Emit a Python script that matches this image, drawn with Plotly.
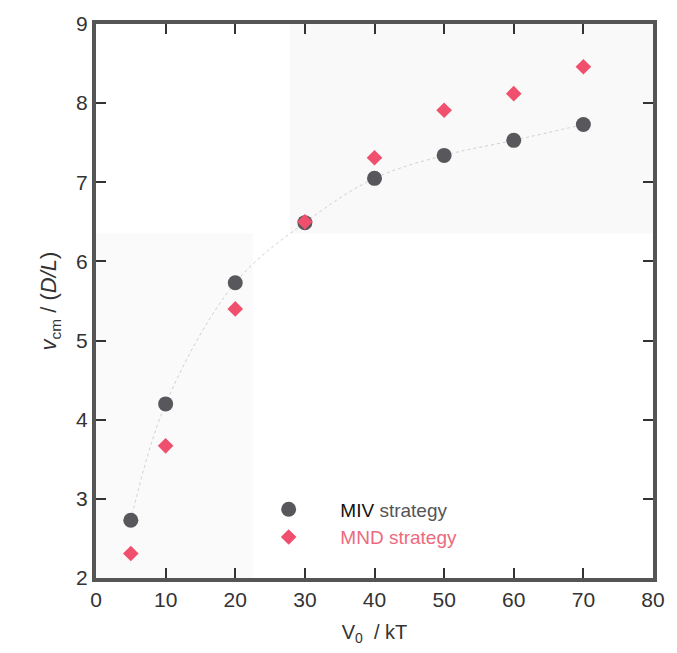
import plotly.graph_objects as go

v0 = [5, 10, 20, 30, 40, 50, 60, 70]
miv = [2.73, 4.20, 5.73, 6.49, 7.05, 7.34, 7.53, 7.73]
mnd = [2.31, 3.67, 5.40, 6.50, 7.31, 7.91, 8.12, 8.46]
xticks = [0, 10, 20, 30, 40, 50, 60, 70, 80]
yticks = [2, 3, 4, 5, 6, 7, 8, 9]

tickfont = dict(family="Liberation Sans, Arial", size=21, color="#333")

fig = go.Figure()
fig.add_trace(go.Scatter(x=v0, y=miv, mode="lines", line=dict(color="#d0d0d0", width=1, dash="dot", shape="spline"),
                         showlegend=False, hoverinfo="skip"))
fig.add_trace(go.Scatter(x=v0, y=miv, mode="markers", name='      <span style="color:#111">MIV</span> strategy',
                         marker=dict(symbol="circle", size=15, color="#58585c", line=dict(width=0))))
fig.add_trace(go.Scatter(x=v0, y=mnd, mode="markers", name='      <span style="color:#ec6a7e">MND strategy</span>',
                         marker=dict(symbol="diamond", size=12, color="#f0506e", line=dict(width=0))))

# faint scan-background patches
fig.add_shape(type="rect", xref="paper", yref="paper", x0=(293-96)/565, x1=1.0, y0=(580-230)/563, y1=1.0,
              fillcolor="#f9f9f9", line=dict(width=0), layer="below")
fig.add_shape(type="rect", xref="paper", yref="paper", x0=0, x1=(255-96)/565, y0=0, y1=(580-230)/563,
              fillcolor="#fafafa", line=dict(width=0), layer="below")

axis_common = dict(showgrid=False, zeroline=False, showline=True, linecolor="#555", linewidth=4, mirror="ticks",
                   ticks="inside", ticklen=10, tickwidth=2, tickcolor="#333", tickfont=tickfont)
fig.update_xaxes(range=[0, 80], tickvals=xticks, ticktext=[str(t) for t in xticks],
                 title=dict(text="V<sub>0</sub>  / kT", font=dict(family="Liberation Sans, Arial", size=20, color="#333"), standoff=16),
                 **axis_common)
fig.update_yaxes(range=[2, 9], tickvals=yticks, ticktext=[str(t) for t in yticks],
                 title=dict(text="<i>v</i><sub>cm</sub> / (<i>D/L</i>)", font=dict(family="Liberation Sans, Arial", size=22, color="#333"), standoff=14),
                 **axis_common)
fig.update_layout(width=677, height=653, margin=dict(l=96, r=16, t=17, b=73),
                  plot_bgcolor="white", paper_bgcolor="white",
                  legend=dict(x=0.31, y=0.158, xanchor="left", yanchor="top", bgcolor="rgba(0,0,0,0)",
                              font=dict(family="Liberation Sans, Arial", size=19, color="#555"), tracegroupgap=0),
                  showlegend=True)
fig.write_html("out.html")
